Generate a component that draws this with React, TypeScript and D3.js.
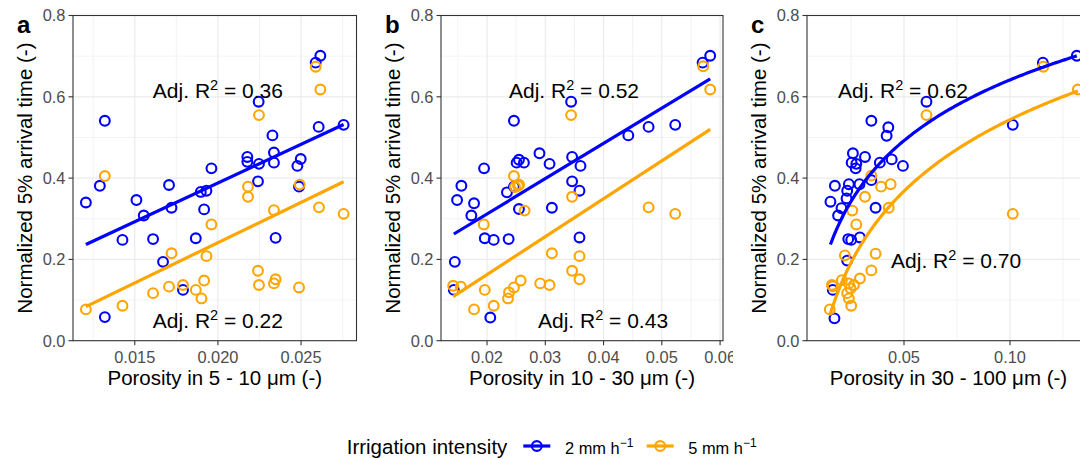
import React from 'react';
import * as d3 from 'd3';

// ---------- axis ticks ----------
const yTicks = [0, 0.2, 0.4, 0.6, 0.8];
const yMinor = [0.1, 0.3, 0.5, 0.7];
const aTicks = [0.015, 0.02, 0.025];
const aMinor = [0.0125, 0.0175, 0.0225, 0.0275];
const bTicks = [0.02, 0.03, 0.04, 0.05, 0.06];
const bMinor = [0.015, 0.025, 0.035, 0.045, 0.055];
const cTicks = [0.05, 0.1];
const cMinor = [0.025, 0.075, 0.125];

// ---------- panel a: porosity 5-10 µm ----------
const aBlueX = [0.02616, 0.02588, 0.02245, 0.0132, 0.02606, 0.02756, 0.02328, 0.02177, 0.02177, 0.02247, 0.02337, 0.02337, 0.02498, 0.02478, 0.02488, 0.02241, 0.01961, 0.0129, 0.01706, 0.01897, 0.01931, 0.01206, 0.0151, 0.01721, 0.01917, 0.01554, 0.01426, 0.0161, 0.01867, 0.02347, 0.0167, 0.0179, 0.0132];
const aBlueY = [0.701, 0.684, 0.588, 0.541, 0.526, 0.531, 0.505, 0.452, 0.44, 0.435, 0.463, 0.438, 0.447, 0.43, 0.379, 0.392, 0.424, 0.381, 0.383, 0.366, 0.369, 0.34, 0.346, 0.327, 0.323, 0.308, 0.248, 0.25, 0.252, 0.253, 0.194, 0.125, 0.058];
const aOrangeX = [0.02588, 0.02616, 0.02247, 0.0132, 0.02181, 0.02181, 0.02492, 0.02337, 0.02608, 0.02756, 0.01961, 0.01721, 0.01931, 0.02241, 0.02347, 0.02337, 0.02247, 0.02488, 0.01706, 0.0179, 0.01917, 0.01867, 0.01901, 0.0161, 0.01426, 0.01206];
const aOrangeY = [0.674, 0.618, 0.555, 0.405, 0.379, 0.354, 0.384, 0.321, 0.328, 0.312, 0.286, 0.215, 0.208, 0.172, 0.151, 0.141, 0.137, 0.131, 0.133, 0.137, 0.148, 0.125, 0.104, 0.117, 0.086, 0.077];
const aFitBlue = [0.0069, 19.05]; // intercept, slope
const aFitOrange = [-0.1554, 19.83];
const aR2Labels = ['0.36', '0.22'];
const aR2X = [0.02, 0.02];
const aR2Y = [0.596, 0.0305];

// ---------- panel b: porosity 10-30 µm ----------
const bBlueX = [0.0583, 0.057, 0.03443, 0.02462, 0.04425, 0.04773, 0.0523, 0.029, 0.02548, 0.02633, 0.02508, 0.03073, 0.0346, 0.03604, 0.01949, 0.0156, 0.0346, 0.03587, 0.02342, 0.02462, 0.01486, 0.01777, 0.01731, 0.02548, 0.03113, 0.01961, 0.02115, 0.02371, 0.03587, 0.01447, 0.0143, 0.02056];
const bBlueY = [0.701, 0.684, 0.588, 0.541, 0.505, 0.526, 0.531, 0.461, 0.445, 0.438, 0.438, 0.435, 0.452, 0.43, 0.424, 0.381, 0.392, 0.369, 0.365, 0.379, 0.346, 0.338, 0.308, 0.324, 0.327, 0.252, 0.248, 0.25, 0.254, 0.194, 0.125, 0.057];
const bOrangeX = [0.0571, 0.0583, 0.03443, 0.02462, 0.02531, 0.0248, 0.0255, 0.0346, 0.02645, 0.04773, 0.0523, 0.01944, 0.03113, 0.03587, 0.0346, 0.03587, 0.03073, 0.02913, 0.02577, 0.02462, 0.02377, 0.0236, 0.01961, 0.02115, 0.01777, 0.01418, 0.0155];
const bOrangeY = [0.675, 0.618, 0.555, 0.405, 0.381, 0.378, 0.384, 0.354, 0.32, 0.328, 0.312, 0.286, 0.215, 0.208, 0.172, 0.151, 0.137, 0.141, 0.148, 0.131, 0.119, 0.104, 0.125, 0.086, 0.077, 0.135, 0.133];
const bFitBlue = [0.1385, 8.67];
const bFitOrange = [-0.0239, 9.33];
const bR2Labels = ['0.52', '0.43'];
const bR2X = [0.03493, 0.03991];
const bR2Y = [0.596, 0.0305];

// ---------- panel c: porosity 30-100 µm ----------
const cBlueX = [0.1315, 0.1155, 0.0606, 0.0346, 0.1013, 0.0426, 0.0418, 0.0259, 0.0316, 0.0253, 0.0275, 0.0272, 0.0386, 0.0442, 0.0495, 0.0346, 0.0174, 0.024, 0.029, 0.0232, 0.0229, 0.0153, 0.0205, 0.0189, 0.0366, 0.0237, 0.0251, 0.0292, 0.0232, 0.0164, 0.0172];
const cBlueY = [0.701, 0.684, 0.588, 0.541, 0.531, 0.525, 0.504, 0.461, 0.452, 0.438, 0.435, 0.424, 0.438, 0.446, 0.43, 0.395, 0.381, 0.385, 0.385, 0.369, 0.35, 0.342, 0.326, 0.308, 0.327, 0.25, 0.248, 0.254, 0.197, 0.125, 0.055];
const cOrangeX = [0.1157, 0.132, 0.0606, 0.0346, 0.0392, 0.0437, 0.1013, 0.0428, 0.0316, 0.0256, 0.0275, 0.0366, 0.0221, 0.0346, 0.0292, 0.0164, 0.016, 0.0207, 0.024, 0.0264, 0.0248, 0.0232, 0.024, 0.0251, 0.015];
const cOrangeY = [0.674, 0.618, 0.555, 0.406, 0.379, 0.385, 0.312, 0.327, 0.354, 0.32, 0.286, 0.214, 0.21, 0.173, 0.153, 0.134, 0.137, 0.149, 0.141, 0.137, 0.129, 0.117, 0.104, 0.086, 0.077];
const cFitBlue = [1.1383, 0.2157]; // a + b*ln(x)
const cFitOrange = [1.1282, 0.2538];
const cR2Labels = ['0.62', '0.70'];
const cR2X = [0.04953, 0.07458];
const cR2Y = [0.596, 0.178];

// ---------- legend ----------
const legendTitle = 'Irrigation intensity';
const seriesNames = ['2 mm h', '5 mm h'];

// ---------- style ----------
const BLUE = '#0000FF';
const ORANGE = '#FFA500';
const FONT = '"Liberation Sans", Arial, Helvetica, sans-serif';
const TOP = 15.5;
const BOTTOM = 340.7;

type Fit = 'lin' | 'log';
interface PanelCfg {
  tag: string; x0: number; x1: number; domain: [number, number];
  ticks: number[]; minor: number[]; fmt: string; title: string;
  blue: number[][]; orange: number[][]; fit: Fit;
  fitBlue: number[]; fitOrange: number[];
  r2: string[]; r2x: number[]; r2y: number[]; cover?: boolean;
}

const panels: PanelCfg[] = [
  { tag: 'a', x0: 73, x1: 356.5, domain: [0.011285, 0.028335], ticks: aTicks, minor: aMinor, fmt: '.3f',
    title: 'Porosity in 5 - 10 μm (-)', blue: [aBlueX, aBlueY], orange: [aOrangeX, aOrangeY], fit: 'lin',
    fitBlue: aFitBlue, fitOrange: aFitOrange, r2: aR2Labels, r2x: aR2X, r2y: aR2Y },
  { tag: 'b', x0: 441, x1: 723, domain: [0.0121, 0.0605], ticks: bTicks, minor: bMinor, fmt: '.2f',
    title: 'Porosity in 10 - 30 μm (-)', blue: [bBlueX, bBlueY], orange: [bOrangeX, bOrangeY], fit: 'lin',
    fitBlue: bFitBlue, fitOrange: bFitOrange, r2: bR2Labels, r2x: bR2X, r2y: bR2Y },
  { tag: 'c', x0: 807, x1: 1090, domain: [0.004245, 0.137736], ticks: cTicks, minor: cMinor, fmt: '.2f',
    title: 'Porosity in 30 - 100 μm (-)', blue: [cBlueX, cBlueY], orange: [cOrangeX, cOrangeY], fit: 'log',
    fitBlue: cFitBlue, fitOrange: cFitOrange, r2: cR2Labels, r2x: cR2X, r2y: cR2Y, cover: true },
];

const y = d3.scaleLinear().domain([0, 0.8]).range([BOTTOM, TOP]);

function fitPath(xs: number[], coef: number[], kind: Fit, x: d3.ScaleLinear<number, number>) {
  const [lo, hi] = d3.extent(xs) as [number, number];
  const f = (v: number) => (kind === 'lin' ? coef[0] + coef[1] * v : coef[0] + coef[1] * Math.log(v));
  const n = kind === 'lin' ? 2 : 120;
  const pts: [number, number][] = d3.range(n).map((i) => {
    const v = lo + ((hi - lo) * i) / (n - 1);
    return [v, f(v)];
  });
  return d3.line<[number, number]>().x((d) => x(d[0])).y((d) => y(d[1]))(pts) || '';
}

function Panel({ p }: { p: PanelCfg }) {
  const x = d3.scaleLinear().domain(p.domain).range([p.x0, p.x1]);
  const fmt = d3.format(p.fmt);
  const clipId = 'clip-' + p.tag;
  const series = [
    { d: p.blue, c: BLUE, fit: p.fitBlue },
    { d: p.orange, c: ORANGE, fit: p.fitOrange },
  ];
  const ymid = (TOP + BOTTOM) / 2;
  return (
    <g>
      {p.cover && <rect x={733} y={0} width={400} height={420} fill="#fff" />}
      <defs>
        <clipPath id={clipId}>
          <rect x={p.x0} y={TOP} width={p.x1 - p.x0} height={BOTTOM - TOP} />
        </clipPath>
      </defs>
      <g clipPath={`url(#${clipId})`}>
        <rect x={p.x0} y={TOP} width={p.x1 - p.x0} height={BOTTOM - TOP} fill="#fff" />
        {yMinor.map((t) => (
          <line key={'ym' + t} x1={p.x0} x2={p.x1} y1={y(t)} y2={y(t)} stroke="#EBEBEB" strokeWidth={0.6} />
        ))}
        {p.minor.map((t) => (
          <line key={'xm' + t} x1={x(t)} x2={x(t)} y1={TOP} y2={BOTTOM} stroke="#EBEBEB" strokeWidth={0.6} />
        ))}
        {yTicks.map((t) => (
          <line key={'yM' + t} x1={p.x0} x2={p.x1} y1={y(t)} y2={y(t)} stroke="#EBEBEB" strokeWidth={1.2} />
        ))}
        {p.ticks.map((t) => (
          <line key={'xM' + t} x1={x(t)} x2={x(t)} y1={TOP} y2={BOTTOM} stroke="#EBEBEB" strokeWidth={1.2} />
        ))}
        {series.map((s, si) =>
          s.d[0].map((xv, i) => (
            <circle key={si + '-' + i} cx={x(xv)} cy={y(s.d[1][i])} r={4.9} fill="none" stroke={s.c} strokeWidth={2.1} />
          ))
        )}
        {series.map((s, si) => (
          <path key={'f' + si} d={fitPath(s.d[0], s.fit, p.fit, x)} fill="none" stroke={s.c} strokeWidth={3.2} />
        ))}
        {p.r2.map((lab, i) => (
          <text key={'r' + i} x={x(p.r2x[i])} y={y(p.r2y[i])} textAnchor="middle" fontSize={21} fontFamily={FONT} fill="#000">
            Adj. R<tspan dy={-8} fontSize={14.5}>2</tspan><tspan dy={8}>{' = ' + lab}</tspan>
          </text>
        ))}
      </g>
      <rect x={p.x0} y={TOP} width={p.x1 - p.x0} height={BOTTOM - TOP} fill="none" stroke="#333333" strokeWidth={1.1} />
      {yTicks.map((t) => (
        <g key={'yt' + t}>
          <line x1={p.x0 - 4.5} x2={p.x0} y1={y(t)} y2={y(t)} stroke="#333333" strokeWidth={1.1} />
          <text x={p.x0 - 7.5} y={y(t)} dy="0.36em" textAnchor="end" fontSize={16.4} fontFamily={FONT} fill="#4D4D4D">
            {d3.format('.1f')(t)}
          </text>
        </g>
      ))}
      {p.ticks.map((t) => (
        <g key={'xt' + t}>
          <line x1={x(t)} x2={x(t)} y1={BOTTOM} y2={BOTTOM + 4.5} stroke="#333333" strokeWidth={1.1} />
          <text x={x(t)} y={363} textAnchor="middle" fontSize={16.4} fontFamily={FONT} fill="#4D4D4D">
            {fmt(t)}
          </text>
        </g>
      ))}
      <text x={(p.x0 + Math.min(p.x1, 1090)) / 2} y={385} textAnchor="middle" fontSize={20.5} fontFamily={FONT} fill="#000">
        {p.title}
      </text>
      <text transform={`translate(${p.x0 - 41.5},${ymid}) rotate(-90)`} textAnchor="middle" fontSize={20.5} fontFamily={FONT} fill="#000">
        Normalized 5% arrival time (-)
      </text>
      <text x={p.x0 - 56} y={33} fontSize={24} fontWeight="bold" fontFamily={FONT} fill="#000">
        {p.tag}
      </text>
    </g>
  );
}

function Legend() {
  const keys = [
    { c: BLUE, kx: 523.3, tx: 565, name: seriesNames[0] },
    { c: ORANGE, kx: 646.7, tx: 688.3, name: seriesNames[1] },
  ];
  const ky = 446;
  return (
    <g>
      <text x={346.7} y={454} fontSize={20.5} fontFamily={FONT} fill="#000">{legendTitle}</text>
      {keys.map((k) => (
        <g key={k.name}>
          <line x1={k.kx} x2={k.kx + 27} y1={ky} y2={ky} stroke={k.c} strokeWidth={3.2} />
          <circle cx={k.kx + 13.5} cy={ky} r={4.9} fill="none" stroke={k.c} strokeWidth={2.1} />
          <text x={k.tx} y={454} fontSize={16.4} fontFamily={FONT} fill="#000">
            {k.name}
            <tspan dy={-7} fontSize={12}>−1</tspan>
          </text>
        </g>
      ))}
    </g>
  );
}

export default function App() {
  return (
    <div style={{ position: 'absolute', left: 0, top: 0 }}>
      <svg width={1080} height={459} style={{ display: 'block', background: '#fff' }}>
        <rect x={0} y={0} width={1080} height={459} fill="#fff" />
        {panels.map((p) => (
          <Panel key={p.tag} p={p} />
        ))}
        <Legend />
      </svg>
    </div>
  );
}
